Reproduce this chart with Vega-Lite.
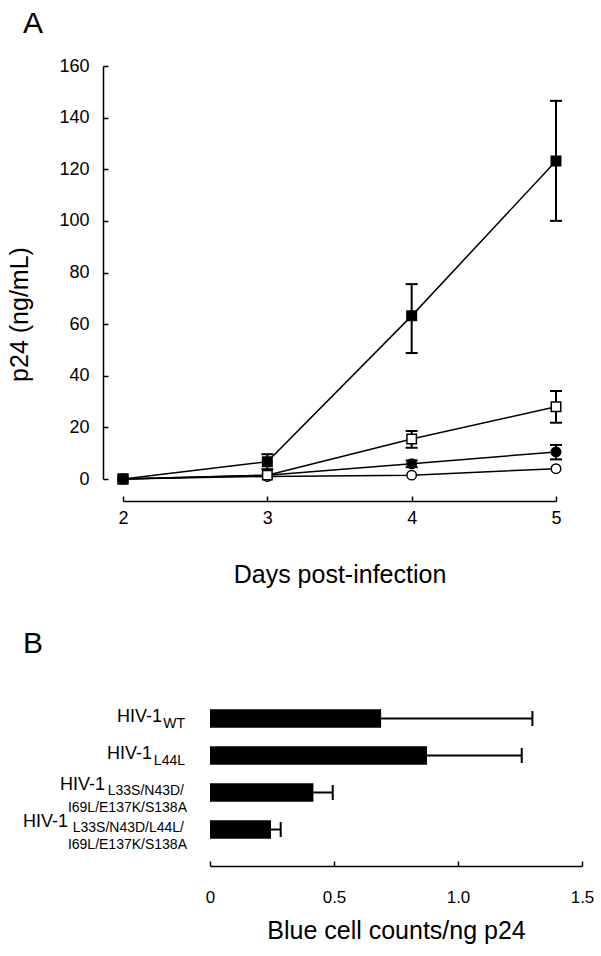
{
  "$schema": "https://vega.github.io/schema/vega-lite/v6.json",
  "padding": {"left": 7, "top": 9, "right": 5, "bottom": 5},
  "spacing": 42,
  "config": {
    "font": "Liberation Sans",
    "view": {"stroke": null},
    "axis": {"domainColor": "black", "domainWidth": 1.5, "tickColor": "black", "tickWidth": 1.5, "labelColor": "black", "titleColor": "black", "labelFont": "Liberation Sans", "titleFont": "Liberation Sans", "titleFontWeight": "normal", "grid": false, "labelFlush": false},
    "title": {"fontWeight": "normal", "color": "black", "font": "Liberation Sans"}
  },
  "vconcat": [
    {
      "title": {"text": "A", "anchor": "start", "frame": "group", "dx": -100, "fontSize": 30, "baseline": "alphabetic", "offset": -6},
      "width": 433,
      "height": 413,
      "data": {"values": [
        {"series": "S3", "day": 2, "mean": 0},
        {"series": "S3", "day": 3, "mean": 1.5},
        {"series": "S3", "day": 4, "mean": 5.9, "lo": 4.6, "hi": 7.2},
        {"series": "S3", "day": 5, "mean": 10.5, "lo": 7.6, "hi": 13.2},
        {"series": "S4", "day": 2, "mean": 0},
        {"series": "S4", "day": 3, "mean": 1.0},
        {"series": "S4", "day": 4, "mean": 1.5},
        {"series": "S4", "day": 5, "mean": 4.0},
        {"series": "S2", "day": 2, "mean": 0},
        {"series": "S2", "day": 3, "mean": 1.5},
        {"series": "S2", "day": 4, "mean": 15.5, "lo": 12.1, "hi": 18.6},
        {"series": "S2", "day": 5, "mean": 28.0, "lo": 21.8, "hi": 34.1},
        {"series": "S1", "day": 2, "mean": 0},
        {"series": "S1", "day": 3, "mean": 6.7, "lo": 3.8, "hi": 9.6},
        {"series": "S1", "day": 4, "mean": 63.2, "lo": 48.8, "hi": 75.5},
        {"series": "S1", "day": 5, "mean": 123.2, "lo": 100, "hi": 146.5}
      ]},
      "encoding": {
        "x": {"field": "day", "type": "quantitative", "scale": {"domain": [2, 5], "nice": false},
          "axis": {"values": [2, 3, 4, 5], "tickSize": -5, "offset": 22, "labelFontSize": 18, "labelPadding": 13, "title": "Days post-infection", "titleFontSize": 25, "titlePadding": 35}}
      },
      "layer": [
        {
          "mark": {"type": "line", "color": "black", "strokeWidth": 1.5},
          "encoding": {
            "y": {"field": "mean", "type": "quantitative", "scale": {"domain": [0, 160], "nice": false},
              "axis": {"values": [0, 20, 40, 60, 80, 100, 120, 140, 160], "tickSize": -5, "offset": 20, "labelFontSize": 18, "labelPadding": 19, "title": "p24 (ng/mL)", "titleFontSize": 25, "titlePadding": 26, "titleY": 248}},
            "detail": {"field": "series"}
          }
        },
        {
          "transform": [{"filter": "isValid(datum.hi)"}],
          "mark": {"type": "rule", "color": "black", "strokeWidth": 2},
          "encoding": {"y": {"field": "lo", "type": "quantitative"}, "y2": {"field": "hi"}}
        },
        {
          "transform": [{"filter": "isValid(datum.hi)"}],
          "mark": {"type": "tick", "orient": "horizontal", "color": "black", "size": 12, "thickness": 2, "opacity": 1},
          "encoding": {"y": {"field": "hi", "type": "quantitative"}}
        },
        {
          "transform": [{"filter": "isValid(datum.lo)"}],
          "mark": {"type": "tick", "orient": "horizontal", "color": "black", "size": 12, "thickness": 2, "opacity": 1},
          "encoding": {"y": {"field": "lo", "type": "quantitative"}}
        },
        {
          "mark": {"type": "point", "stroke": "black", "strokeWidth": 1.5, "opacity": 1, "fillOpacity": 1, "strokeOpacity": 1, "size": 90},
          "encoding": {
            "y": {"field": "mean", "type": "quantitative"},
            "shape": {"field": "series", "type": "nominal", "scale": {"domain": ["S1", "S2", "S3", "S4"], "range": ["square", "square", "circle", "circle"]}, "legend": null},
            "fill": {"field": "series", "type": "nominal", "scale": {"domain": ["S1", "S2", "S3", "S4"], "range": ["black", "white", "black", "white"]}, "legend": null}
          }
        }
      ]
    },
    {
      "title": {"text": "B", "anchor": "start", "frame": "group", "dx": -100, "fontSize": 30, "baseline": "alphabetic", "offset": 17},
      "width": 459,
      "height": 148,
      "data": {"values": [
        {"strain": "WT", "main": "HIV-1", "sub1": "WT", "sub2": "", "mean": 0.69, "hi": 1.30},
        {"strain": "L44L", "main": "HIV-1", "sub1": "L44L", "sub2": "", "mean": 0.875, "hi": 1.257},
        {"strain": "L33S/N43D/I69L/E137K/S138A", "main": "HIV-1", "sub1": "L33S/N43D/", "sub2": "I69L/E137K/S138A", "mean": 0.417, "hi": 0.495},
        {"strain": "L33S/N43D/L44L/I69L/E137K/S138A", "main": "HIV-1", "sub1": "L33S/N43D/L44L/", "sub2": "I69L/E137K/S138A", "mean": 0.246, "hi": 0.285}
      ]},
      "encoding": {
        "y": {"field": "strain", "type": "nominal", "sort": null,
          "scale": {"domain": ["WT", "L44L", "L33S/N43D/I69L/E137K/S138A", "L33S/N43D/L44L/I69L/E137K/S138A"], "paddingInner": 0.5, "paddingOuter": 0.25},
          "axis": null}
      },
      "layer": [
        {
          "mark": {"type": "bar", "color": "black"},
          "encoding": {
            "x": {"field": "mean", "type": "quantitative", "scale": {"domain": [0, 1.5], "nice": false, "range": [87, 459]},
              "axis": {"values": [0, 0.5, 1, 1.5], "tickSize": -5, "offset": 18, "labelFontSize": 17, "labelPadding": 28, "labelExpr": "datum.value == 0 ? '0' : format(datum.value, '.1f')", "title": "Blue cell counts/ng p24", "titleFontSize": 25, "titlePadding": 13}}
          }
        },
        {
          "mark": {"type": "rule", "color": "black", "strokeWidth": 2},
          "encoding": {"x": {"field": "mean", "type": "quantitative"}, "x2": {"field": "hi"}}
        },
        {
          "mark": {"type": "tick", "orient": "vertical", "color": "black", "size": 15, "thickness": 2, "opacity": 1},
          "encoding": {"x": {"field": "hi", "type": "quantitative"}}
        },
        {
          "transform": [{"filter": "datum.strain == 'WT'"}],
          "mark": {"type": "text", "align": "right", "baseline": "middle", "dx": -48, "dy": -2, "fontSize": 18, "color": "black"},
          "encoding": {"x": {"datum": 0}, "text": {"field": "main"}}
        },
        {
          "transform": [{"filter": "datum.strain == 'L44L'"}],
          "mark": {"type": "text", "align": "right", "baseline": "middle", "dx": -58, "dy": -2, "fontSize": 18, "color": "black"},
          "encoding": {"x": {"datum": 0}, "text": {"field": "main"}}
        },
        {
          "transform": [{"filter": "datum.strain == 'L33S/N43D/I69L/E137K/S138A'"}],
          "mark": {"type": "text", "align": "right", "baseline": "middle", "dx": -105, "dy": -8, "fontSize": 18, "color": "black"},
          "encoding": {"x": {"datum": 0}, "text": {"field": "main"}}
        },
        {
          "transform": [{"filter": "datum.strain == 'L33S/N43D/L44L/I69L/E137K/S138A'"}],
          "mark": {"type": "text", "align": "right", "baseline": "middle", "dx": -142, "dy": -8, "fontSize": 18, "color": "black"},
          "encoding": {"x": {"datum": 0}, "text": {"field": "main"}}
        },
        {
          "transform": [{"filter": "datum.sub2 == ''"}],
          "mark": {"type": "text", "align": "right", "baseline": "middle", "dx": -25, "dy": 5, "fontSize": 14, "color": "black"},
          "encoding": {"x": {"datum": 0}, "text": {"field": "sub1"}}
        },
        {
          "transform": [{"filter": "datum.sub2 != ''"}],
          "mark": {"type": "text", "align": "right", "baseline": "middle", "dx": -26, "dy": -2, "fontSize": 14, "color": "black"},
          "encoding": {"x": {"datum": 0}, "text": {"field": "sub1"}}
        },
        {
          "transform": [{"filter": "datum.sub2 != ''"}],
          "mark": {"type": "text", "align": "right", "baseline": "middle", "dx": -23, "dy": 15, "fontSize": 14, "color": "black"},
          "encoding": {"x": {"datum": 0}, "text": {"field": "sub2"}}
        }
      ]
    }
  ]
}
